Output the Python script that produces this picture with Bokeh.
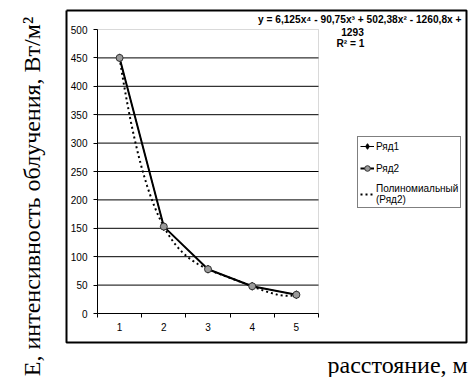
import numpy as np
from bokeh.plotting import figure
from bokeh.models import (FixedTicker, Range1d, Label, BoxAnnotation, Legend, LegendItem)
from bokeh.embed import file_html
from bokeh.resources import INLINE

# ---- data ----
categories = ["1", "2", "3", "4", "5"]
ryad1 = [450, 153, 78, 48, 33]
ryad2 = [450, 153, 78, 48, 33]
trend_coef = [6.125, -90.75, 502.38, -1260.8, 1293]   # coefficients printed on the chart
y_ticks = [0, 50, 100, 150, 200, 250, 300, 350, 400, 450, 500]
eq_line1 = "y = 6,125x\u2074 - 90,75x\u00b3 + 502,38x\u00b2 - 1260,8x +"
eq_line2 = "1293"
eq_line3 = "R\u00b2 = 1"
y_title = "Е, интенсивность облучения, Вт/м\u00b2"
x_title = "расстояние, м"
legend_labels = ["Ряд1", "Ряд2", "Полиномиальный\n(Ряд2)"]

# ---- layout (canvas pixels) ----
W, H = 473, 377
FL, FR, FT, FB = 97, 318, 29, 313          # plot area edges on the canvas
n = len(categories)
x0, x1 = 0.5, n + 0.5
y0, y1 = y_ticks[0], y_ticks[-1]
PX = (FR - FL) / (x1 - x0)
PY = (FB - FT) / (y1 - y0)
xs_start = x0 - FL / PX
ys_end = y1 + FT / PY


def dx(cx):
    return xs_start + cx / PX


def dy(cy):
    return ys_end - cy / PY


xpos = [i + 1 for i in range(n)]

p = figure(width=W, height=H, output_backend="svg", toolbar_location=None, title=None,
           x_range=Range1d(dx(0), dx(W)), y_range=Range1d(dy(H), dy(0)),
           min_border=0, min_border_left=0, min_border_right=0,
           min_border_top=0, min_border_bottom=0)
p.background_fill_color = "white"
p.border_fill_color = "white"
p.outline_line_color = None

AX_FONT = "Liberation Sans"

# outer chart border (frame decoration)
p.multi_line(xs=[[dx(66), dx(466), dx(466), dx(66), dx(66)]],
             ys=[[dy(10), dy(10), dy(342), dy(342), dy(10)]],
             line_color="black", line_width=2)

# plot-area border (grey) and horizontal grid lines
p.add_layout(BoxAnnotation(left=x0, right=x1, bottom=y0, top=y1, fill_alpha=0,
                           line_color="#808080", line_width=1, level="underlay"))
grid_vals = y_ticks[1:-1]
p.segment(x0=[x0] * len(grid_vals), x1=[x1] * len(grid_vals), y0=grid_vals, y1=grid_vals,
          line_color="black", line_width=1)

xa = p.xaxis[0]
xa.fixed_location = y0
xa.bounds = (x0, x1)
xa.ticker = FixedTicker(ticks=xpos, minor_ticks=[x - 0.5 for x in xpos] + [xpos[-1] + 0.5])
xa.major_label_overrides = {x: c for x, c in zip(xpos, categories)}
xa.major_tick_out = 0
xa.major_tick_in = 0
xa.minor_tick_out = 4
xa.minor_tick_in = 0
xa.minor_tick_line_color = "black"
xa.axis_line_color = "black"
xa.axis_line_width = 1
xa.major_label_text_font = AX_FONT
xa.major_label_text_font_size = "10px"
xa.major_label_text_color = "black"
xa.major_label_standoff = 5

ya = p.yaxis[0]
ya.fixed_location = x0
ya.bounds = (y0, y1)
ya.ticker = FixedTicker(ticks=y_ticks, minor_ticks=[])
ya.major_tick_out = 4
ya.major_tick_in = 0
ya.major_tick_line_color = "black"
ya.axis_line_color = "black"
ya.major_label_text_font = AX_FONT
ya.major_label_text_font_size = "10px"
ya.major_label_text_color = "black"
ya.major_label_standoff = 6

p.xgrid.visible = False
p.ygrid.visible = False

# ---- series ----
r1_line = p.line(xpos, ryad1, line_color="black", line_width=1)
r1_mark = p.scatter(xpos, ryad1, marker="diamond", size=8, fill_color="black", line_color="black")

xs = np.linspace(xpos[0], xpos[-1], 200)
ys = np.polyval(trend_coef, xs)
tr = p.line(xs, ys, line_color="black", line_width=2, line_dash="2 3")

r2_line = p.line(xpos, ryad2, line_color="black", line_width=2)
r2_mark = p.scatter(xpos, ryad2, marker="circle", size=7, fill_color="#9a9a9a", line_color="#333333")

# ---- legend ----
legend = Legend(items=[LegendItem(label=legend_labels[0], renderers=[r1_line, r1_mark]),
                       LegendItem(label=legend_labels[1], renderers=[r2_line, r2_mark]),
                       LegendItem(label=legend_labels[2], renderers=[tr])],
                location=(357, H - 208))
legend.border_line_color = "black"
legend.border_line_width = 1
legend.background_fill_color = "white"
legend.background_fill_alpha = 1
legend.padding = 2
legend.margin = 0
legend.spacing = 8
legend.glyph_width = 14
legend.glyph_height = 14
legend.label_height = 14
legend.label_standoff = 2
legend.label_text_font = AX_FONT
legend.label_text_font_size = "10px"
legend.label_text_color = "black"
p.add_layout(legend)

# ---- equation texts ----
EQ = dict(text_font=AX_FONT, text_font_size="10.2px",
          text_font_style="bold", text_color="black", text_baseline="middle")
p.add_layout(Label(x=dx(461), y=dy(18.5), text=eq_line1, text_align="right", **EQ))
p.add_layout(Label(x=dx(352), y=dy(31.5), text=eq_line2, text_align="center", **EQ))
p.add_layout(Label(x=dx(350), y=dy(43), text=eq_line3, text_align="center", **EQ))

# ---- axis titles ----
p.add_layout(Label(x=dx(31), y=dy(196), text=y_title, angle=np.pi / 2,
                   text_font="Liberation Serif", text_font_size="24px", text_color="black",
                   text_align="center", text_baseline="alphabetic"))
p.add_layout(Label(x=dx(327), y=dy(364), text=x_title,
                   text_font="Liberation Serif", text_font_size="24px", text_color="black",
                   text_align="left", text_baseline="alphabetic"))

open("out.html", "w").write(file_html(p, INLINE))
